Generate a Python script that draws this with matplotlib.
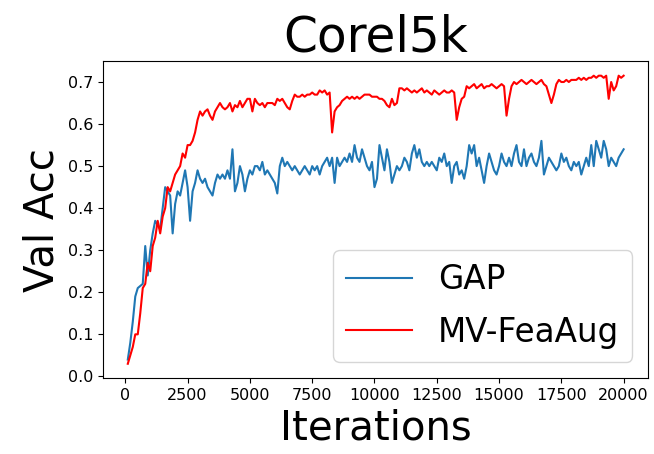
import numpy as np
import matplotlib
matplotlib.use("Agg")
import matplotlib.pyplot as plt

# validation accuracy every 100 iterations
iterations = np.arange(100, 20001, 100)

gap_acc = [
    0.04, 0.08, 0.13, 0.19, 0.21, 0.215, 0.22, 0.31, 0.24, 0.30,
    0.34, 0.37, 0.36, 0.35, 0.40, 0.45, 0.44, 0.43, 0.34, 0.41,
    0.44, 0.43, 0.46, 0.49, 0.45, 0.37, 0.44, 0.46, 0.49, 0.47,
    0.46, 0.47, 0.45, 0.44, 0.43, 0.46, 0.48, 0.47, 0.48, 0.47,
    0.49, 0.47, 0.54, 0.44, 0.46, 0.50, 0.48, 0.44, 0.47, 0.49,
    0.48, 0.50, 0.50, 0.49, 0.51, 0.48, 0.49, 0.48, 0.47, 0.46,
    0.435, 0.50, 0.52, 0.50, 0.51, 0.50, 0.49, 0.50, 0.49, 0.48,
    0.49, 0.50, 0.49, 0.48, 0.50, 0.49, 0.50, 0.48, 0.50, 0.51,
    0.52, 0.50, 0.52, 0.46, 0.52, 0.50, 0.51, 0.52, 0.51, 0.53,
    0.51, 0.55, 0.52, 0.51, 0.54, 0.52, 0.50, 0.49, 0.51, 0.45,
    0.47, 0.55, 0.52, 0.49, 0.54, 0.51, 0.46, 0.48, 0.50, 0.49,
    0.50, 0.52, 0.51, 0.49, 0.53, 0.55, 0.52, 0.54, 0.51, 0.50,
    0.51, 0.50, 0.51, 0.50, 0.49, 0.52, 0.51, 0.53, 0.50, 0.51,
    0.46, 0.50, 0.51, 0.48, 0.49, 0.47, 0.50, 0.55, 0.53, 0.55,
    0.50, 0.52, 0.49, 0.46, 0.50, 0.53, 0.51, 0.49, 0.48, 0.50,
    0.53, 0.51, 0.50, 0.52, 0.50, 0.53, 0.55, 0.51, 0.50, 0.54,
    0.50, 0.52, 0.53, 0.51, 0.50, 0.52, 0.56, 0.48, 0.50, 0.52,
    0.51, 0.50, 0.49, 0.50, 0.53, 0.51, 0.52, 0.50, 0.49, 0.51,
    0.50, 0.51, 0.48, 0.50, 0.52, 0.50, 0.55, 0.50, 0.56, 0.54,
    0.52, 0.56, 0.54, 0.50, 0.52, 0.51, 0.50, 0.52, 0.53, 0.54,
]

mvfeaaug_acc = [
    0.03, 0.05, 0.07, 0.10, 0.10, 0.15, 0.21, 0.22, 0.27, 0.25,
    0.31, 0.33, 0.37, 0.34, 0.38, 0.40, 0.45, 0.44, 0.46, 0.48,
    0.49, 0.50, 0.53, 0.52, 0.55, 0.55, 0.56, 0.58, 0.61, 0.63,
    0.62, 0.63, 0.635, 0.62, 0.61, 0.63, 0.64, 0.65, 0.64, 0.635,
    0.64, 0.65, 0.63, 0.645, 0.64, 0.655, 0.64, 0.65, 0.66, 0.66,
    0.63, 0.66, 0.65, 0.645, 0.65, 0.64, 0.65, 0.65, 0.65, 0.645,
    0.66, 0.655, 0.66, 0.65, 0.64, 0.635, 0.655, 0.67, 0.665, 0.665,
    0.67, 0.665, 0.67, 0.67, 0.675, 0.67, 0.67, 0.68, 0.675, 0.68,
    0.67, 0.675, 0.58, 0.63, 0.64, 0.645, 0.655, 0.66, 0.665, 0.66,
    0.665, 0.66, 0.665, 0.66, 0.665, 0.67, 0.67, 0.67, 0.665, 0.665,
    0.665, 0.66, 0.66, 0.655, 0.645, 0.64, 0.66, 0.645, 0.65, 0.685,
    0.685, 0.68, 0.685, 0.68, 0.675, 0.68, 0.675, 0.68, 0.685, 0.675,
    0.68, 0.675, 0.67, 0.68, 0.675, 0.67, 0.675, 0.68, 0.675, 0.675,
    0.68, 0.675, 0.61, 0.64, 0.66, 0.665, 0.69, 0.685, 0.69, 0.695,
    0.685, 0.69, 0.695, 0.685, 0.69, 0.69, 0.695, 0.69, 0.685, 0.69,
    0.695, 0.69, 0.62, 0.66, 0.69, 0.70, 0.695, 0.70, 0.705, 0.70,
    0.695, 0.70, 0.705, 0.70, 0.695, 0.70, 0.705, 0.695, 0.69, 0.67,
    0.65, 0.67, 0.695, 0.705, 0.70, 0.70, 0.705, 0.70, 0.705, 0.705,
    0.705, 0.71, 0.705, 0.71, 0.705, 0.71, 0.71, 0.715, 0.71, 0.715,
    0.715, 0.71, 0.715, 0.66, 0.70, 0.68, 0.69, 0.715, 0.71, 0.715,
]

fig = plt.figure(figsize=(6.54, 4.54), dpi=100)
ax = fig.add_axes([0.1575, 0.167, 0.834, 0.698])

ax.plot(iterations, gap_acc, color="tab:blue", lw=1.5, label="GAP")
ax.plot(iterations, mvfeaaug_acc, color="red", lw=1.5, label="MV-FeaAug")

ax.set_xticks(np.arange(0, 20001, 2500))
ax.set_yticks(np.arange(0, 0.71, 0.1))
ax.tick_params(labelsize=11.5)

ax.set_title("Corel5k", fontsize=35)
ax.set_xlabel("Iterations", fontsize=29)
ax.set_ylabel("Val Acc", fontsize=29)
ax.legend(loc="lower right", fontsize=23.5, labelspacing=0.6)

fig.savefig("out.png", dpi=100)
